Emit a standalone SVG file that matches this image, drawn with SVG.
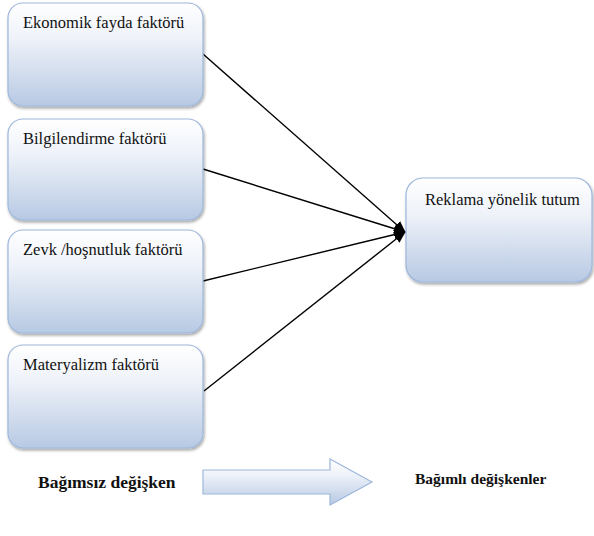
<svg xmlns="http://www.w3.org/2000/svg" width="594" height="536" viewBox="0 0 594 536">
<defs>
<linearGradient id="g" x1="0" y1="0" x2="0" y2="1">
<stop offset="0" stop-color="#ffffff"/>
<stop offset="0.35" stop-color="#eef2f9"/>
<stop offset="1" stop-color="#b7c9e3"/>
</linearGradient>
<filter id="sh" x="-10%" y="-10%" width="125%" height="130%">
<feGaussianBlur in="SourceAlpha" stdDeviation="1.5"/>
<feOffset dx="1" dy="2"/>
<feComponentTransfer><feFuncA type="linear" slope="0.35"/></feComponentTransfer>
<feMerge><feMergeNode/><feMergeNode in="SourceGraphic"/></feMerge>
</filter>
<marker id="ah" markerWidth="12" markerHeight="10" refX="11" refY="5" orient="auto" markerUnits="userSpaceOnUse">
<path d="M0,0 L12,5 L0,10 Z" fill="#000"/>
</marker>
<style>
.box{fill:url(#g);stroke:#9db7dc;stroke-width:1.2;filter:url(#sh)}
.t{font-size:16.5px;fill:#111}
.b{font-weight:bold;fill:#111}
.c{stroke:#000;stroke-width:1.4;fill:none;marker-end:url(#ah)}
</style>
</defs>
<rect width="594" height="536" fill="#fff"/>
<g id="connectors">
<line class="c" x1="203" y1="54" x2="405" y2="232"/>
<line class="c" x1="203" y1="169" x2="405" y2="232"/>
<line class="c" x1="203" y1="281" x2="405" y2="232"/>
<line class="c" x1="204" y1="391" x2="405" y2="232"/>
</g>
<g font-family="Liberation Serif, DejaVu Serif, Times New Roman, serif">
<g id="n1"><rect class="box" x="8" y="3" width="195" height="103" rx="15"/><text class="t" x="23" y="28">Ekonomik fayda faktörü</text></g>
<g id="n2"><rect class="box" x="8" y="119" width="195" height="101" rx="15"/><text class="t" x="23" y="144">Bilgilendirme faktörü</text></g>
<g id="n3"><rect class="box" x="8" y="230" width="195" height="103" rx="15"/><text class="t" x="23" y="255">Zevk /hoşnutluk faktörü</text></g>
<g id="n4"><rect class="box" x="8" y="345" width="195" height="103" rx="15"/><text class="t" x="23" y="370">Materyalizm faktörü</text></g>
<g id="target"><rect class="box" x="406" y="178" width="186" height="104" rx="17"/><text class="t" x="425" y="205">Reklama yönelik tutum</text></g>
<g id="legend">
<text class="b" x="38" y="488" font-size="17.5">Bağımsız değişken</text>
<path d="M203,470 L330,470 L330,459 L372,482 L330,505 L330,494 L203,494 Z" fill="url(#g)" stroke="#9db7dc" stroke-width="1.2"/>
<text class="b" x="415" y="484" font-size="15.5">Bağımlı değişkenler</text>
</g>
</g>
</svg>
